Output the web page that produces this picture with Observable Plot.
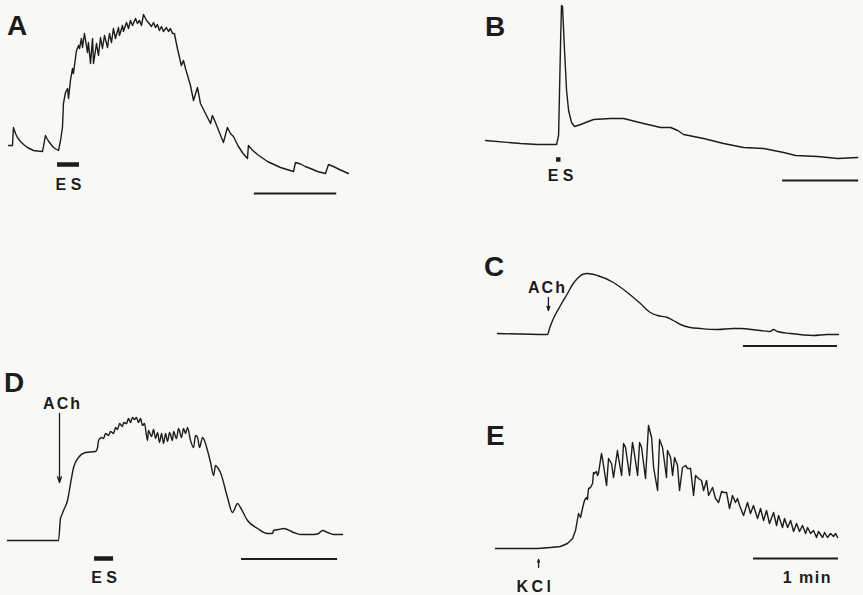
<!DOCTYPE html>
<html><head><meta charset="utf-8">
<script src="https://cdn.jsdelivr.net/npm/d3@7"></script>
<script src="https://cdn.jsdelivr.net/npm/@observablehq/plot@0.6"></script>
<style>
html,body{margin:0;padding:0;background:#f8f8f5;}
#fig{position:relative;width:863px;height:595px;background:#f8f8f5;overflow:hidden;}
.panel{position:absolute;}
.letter{position:absolute;font:bold 28px/28px "Liberation Sans",Arial,sans-serif;color:#1c1c1c;}
</style></head><body><div id="fig"></div>
<script>
// ---- Data: time (s) vs. tension (arbitrary units above panel baseline) ----
const traceA = [[0,30],[2.9,30],[3.6,48],[5.1,42],[6.5,38],[8.7,34],[11,31],[13.8,28],[16,26.5],[18.2,25],[21,24.5],[24.8,24],[26.9,40],[28,37],[29.1,34.5],[31,31],[32.8,28],[34.5,26.5],[36.4,25],[37.9,35],[39.3,48],[40.0,72],[41.5,83],[43.0,87],[43.7,77],[45.1,95],[46.6,107],[47.3,102],[49.5,125],[51.0,130],[51.7,127],[53.1,137],[53.9,128],[55.3,142],[57.5,123],[58.2,133],[59.7,112],[61.2,137],[61.9,112],[64.1,132],[65.5,120],[67.0,138],[68.4,127],[69.9,140],[72.1,128],[73.5,142],[75.0,133],[76.4,147],[77.9,137],[80.1,148],[80.8,140],[83.0,150],[83.7,144],[85.9,153],[87.4,147],[88.8,155],[90.3,150],[92.5,157],[93.9,152],[95.4,155],[96.8,150],[98.3,161],[100.5,155],[101.9,153],[104.1,149],[105.6,153],[107.0,148],[108.5,151],[109.9,145],[111.4,149],[112.8,144],[115.0,148],[116.5,144],[117.9,147],[119.4,142],[120.8,142],[123.0,127],[125.9,110],[127.4,115],[128.9,107],[132.5,90],[134.7,75],[137.6,88],[139.8,72],[147.1,52],[148.5,60],[150.7,53],[156.5,33],[159.4,48],[161.6,42],[163.8,39],[167,30],[170.5,22.5],[174.0,17],[174.7,30],[177.5,25.5],[181.3,21],[188.6,14],[198.0,8],[207.5,4],[209.0,13],[212.6,11.5],[216,9],[219.9,7],[225,4],[230.8,2],[233.0,11],[236.6,9],[241,6],[247.5,2]];
const traceB = [[0,20],[27.6,17],[41.1,16],[56.1,16],[57.7,25],[59.3,120],[60.0,155],[60.8,154],[62.4,110],[64.0,70],[65.6,50],[67.9,38],[70.3,34],[75.1,36],[85.3,41],[98.8,42],[109.0,42],[124.8,37],[138.3,33],[146.2,33],[151.7,30],[156.4,26],[172.2,22],[188.0,17],[203.8,13],[219.6,12],[235.4,8],[244.9,5],[262.3,4],[278.1,2],[293.9,3]];
const traceC = [[0,7],[31.9,6],[33.2,12],[35.7,22],[40.2,35],[44.7,47],[47.9,56],[51.0,62],[54.2,66],[57.4,67],[63.8,65],[74.0,58],[82.9,48],[91.2,37],[97.6,28],[102.1,25],[108.5,23],[112.3,20],[116.8,16],[123.1,13],[129.5,12],[140.4,11],[150.6,12],[155.0,12],[167.8,10],[174.2,9],[176.1,11],[178.6,9],[186.9,7],[201.6,5],[210.5,6],[217.6,6]];
const traceD = [[0,5],[31.9,5],[33.1,27],[33.8,30],[35.0,35],[37.5,45],[39.4,62],[41.3,78],[44.4,88],[48.8,93],[55.0,94],[56.3,98],[56.9,105],[58.8,108],[60.0,107],[61.3,112],[63.1,110],[64.4,114],[66.3,112],[67.5,118],[68.8,116],[70.0,122],[71.9,119],[72.5,123],[74.4,122],[75.6,127],[76.9,123],[78.1,128],[79.4,126],[80.6,128],[81.9,123],[83.1,127],[84.4,120],[85.6,122],[87.5,105],[88.1,115],[90.0,109],[91.3,116],[92.5,107],[93.8,113],[95.0,103],[96.3,112],[97.5,102],[98.8,112],[100.0,104],[101.3,113],[103.1,105],[103.8,114],[105.6,107],[106.9,117],[108.8,108],[110.0,117],[111.3,112],[112.5,118],[114.4,105],[116.3,98],[117.5,110],[118.8,108],[120.0,98],[121.9,108],[123.1,105],[125.0,95],[126.9,83],[128.8,70],[130.0,80],[131.3,78],[133.1,73],[137.5,48],[140.6,33],[143.8,42],[145.6,38],[150.0,25],[156.3,17],[162.5,12],[165.6,12],[166.3,15],[169.4,16],[172.5,17],[178.8,13],[183.1,11],[191.3,11],[194.4,12],[196.9,15],[200.0,13],[203.8,11],[209.4,11]];
const traceE = [[0,2],[29.7,2],[38.8,3],[45.9,4],[50.8,7],[54.4,12],[56.5,20],[58.6,37],[60.0,33],[61.4,42],[62.8,50],[64.2,53],[64.9,51],[65.7,62],[67.1,63],[68.5,67],[69.2,78],[69.9,77],[71.3,79],[72.0,75],[72.7,77],[74.8,97],[75.5,92],[78.4,65],[79.8,92],[81.9,87],[83.3,73],[86.1,100],[86.8,93],[89.0,75],[90.4,107],[91.8,103],[94.6,75],[96.7,108],[97.4,103],[100.3,75],[101.7,108],[103.1,103],[105.9,72],[108.0,125],[110.2,113],[111.6,83],[114.4,60],[115.8,111],[117.9,103],[120.7,73],[121.4,100],[123.6,93],[125.0,75],[126.4,93],[128.5,85],[129.9,60],[132.0,83],[134.2,85],[135.6,82],[137.7,82],[139.8,55],[141.2,75],[143.3,72],[145.4,70],[146.9,60],[149.0,70],[150.4,55],[153.2,63],[155.3,52],[157.5,48],[159.6,59],[161.0,58],[163.1,58],[165.2,42],[167.3,55],[169.4,48],[170.8,52],[172.3,45],[175.1,35],[177.9,48],[180.0,37],[182.1,45],[185.0,32],[187.1,42],[189.2,30],[191.3,40],[193.4,27],[196.3,38],[198.4,25],[199.8,35],[202.6,23],[204.0,32],[206.2,23],[208.3,30],[210.4,19],[212.5,27],[214.6,19],[216.7,25],[218.9,17],[220.3,23],[222.4,17],[224.5,20],[226.6,13],[228.0,19],[230.9,13],[232.3,18],[234.4,13],[236.5,17],[238.6,14],[240.1,17],[241.5,13]];

const panelLetters = ["A", "B", "C", "D", "E"];
const esA = [35.7, 51.7];     // electrical stimulation (s)
const esB = [56.1, 59.6];
const esD = [54.4, 66.3];
const achC = 32.5;            // ACh application (s)
const achD = 32.5;
const kclE = 30.4;            // KCl application (s)
const scaleBarStarts = [179, 234.6, 157, 146.3, 182.1]; // s
const scaleBarLength = 60;    // 1 min
const scaleLabel = "1 min";

// ---- Layout (pixels) ----
const layout = {
  A: {left:0,   top:0,   w:360, h:205, px0:8,   pxPerMin:82.4, base:175, letter:[7,12]},
  B: {left:470, top:0,   w:393, h:200, px0:485, pxPerMin:76,   base:160, letter:[485,13]},
  C: {left:470, top:240, w:393, h:120, px0:497, pxPerMin:94,   base:340, letter:[484,253]},
  D: {left:0,   top:360, w:360, h:235, px0:7,   pxPerMin:96,   base:545, letter:[4,369]},
  E: {left:470, top:400, w:393, h:195, px0:495, pxPerMin:85,   base:550, letter:[486,422]}
};

const INK = "#1c1c1c";
const FONT = "Liberation Sans, Arial, sans-serif";
const toObj = arr => arr.map(([t, v]) => ({t, v}));
const txt = (data, opts={}) => Plot.text(data, {x:"t", y:"v", text:"s", fontSize:16, fontWeight:"bold", fontFamily:FONT, fill:INK, lineAnchor:"bottom", textAnchor:"middle", ...opts});
const bar = (t1, t2, v, sw) => Plot.ruleY([{t1, t2, v}], {y:"v", x1:"t1", x2:"t2", stroke:INK, strokeWidth:sw});
const arrow = (t, v1, v2, head) => Plot.arrow([{t, v1, v2}], {x1:"t", x2:"t", y1:"v1", y2:"v2", stroke:INK, strokeWidth:1.3, headLength:head, headAngle:38});

const traces = {A:traceA, B:traceB, C:traceC, D:traceD, E:traceE};
const curves = {A:"linear", B:"linear", C:"monotone-x", D:"monotone-x", E:"linear"};

function extras(id, i) {
  const sb = scaleBarStarts[i];
  switch (id) {
    case "A": return [
      bar(esA[0], esA[1], 11, 4.5),
      txt([{t:(esA[0]+esA[1])/2, v:-14, s:"E S"}]),
      bar(sb, sb + scaleBarLength, -18, 1.8)];
    case "B": return [
      bar(esB[0], esB[1], 1, 4.5),
      txt([{t:59.3, v:-20, s:"E S"}]),
      bar(sb, sb + scaleBarLength, -20, 1.8)];
    case "C": return [
      txt([{t:achC - 0.6, v:48, s:"ACh"}]),
      arrow(achC, 43, 30, 5),
      bar(sb, sb + scaleBarLength, -5.5, 1.8)];
    case "D": return [
      txt([{t:achD + 1.9, v:137, s:"ACh"}]),
      arrow(achD, 132, 63, 7),
      bar(esD[0], esD[1], -13, 4.5),
      txt([{t:(esD[0]+esD[1])/2, v:-37, s:"E S"}]),
      bar(sb, sb + scaleBarLength, -13.5, 1.8)];
    case "E": return [
      arrow(kclE, -17, -9, 4),
      txt([{t:kclE - 2.2, v:-41.5, s:"KCl"}]),
      bar(sb, sb + scaleBarLength, -8, 1.8),
      txt([{t:sb + 38, v:-32, s:scaleLabel}])];
  }
}

const fig = document.getElementById("fig");
panelLetters.forEach((id, i) => {
  const L = layout[id];
  const k = L.pxPerMin / 60;
  const xDomain = [(L.left - L.px0) / k, (L.left + L.w - L.px0) / k];
  const yDomain = [L.base - (L.top + L.h), L.base - L.top];
  const svg = Plot.plot({
    width: L.w, height: L.h, margin: 0,
    x: {domain: xDomain, axis: null},
    y: {domain: yDomain, axis: null},
    style: {background: "transparent", overflow: "visible"},
    marks: [
      Plot.line(toObj(traces[id]), {x:"t", y:"v", stroke:INK, strokeWidth:1.4, curve:curves[id], strokeLinejoin:"round"}),
      ...extras(id, i)
    ]
  });
  svg.classList.add("panel");
  svg.style.left = L.left + "px";
  svg.style.top = L.top + "px";
  d3.select(svg).selectAll("text").each(function() {
    const s = this.textContent;
    if (s === "ACh") this.style.letterSpacing = "2px";
    else if (s === "KCl") this.style.letterSpacing = "3.5px";
    else if (s === scaleLabel) this.style.letterSpacing = "1.5px";
  });
  fig.appendChild(svg);
  const lab = document.createElement("div");
  lab.className = "letter";
  lab.textContent = id;
  lab.style.left = L.letter[0] + "px";
  lab.style.top = L.letter[1] + "px";
  fig.appendChild(lab);
});
</script></body></html>
